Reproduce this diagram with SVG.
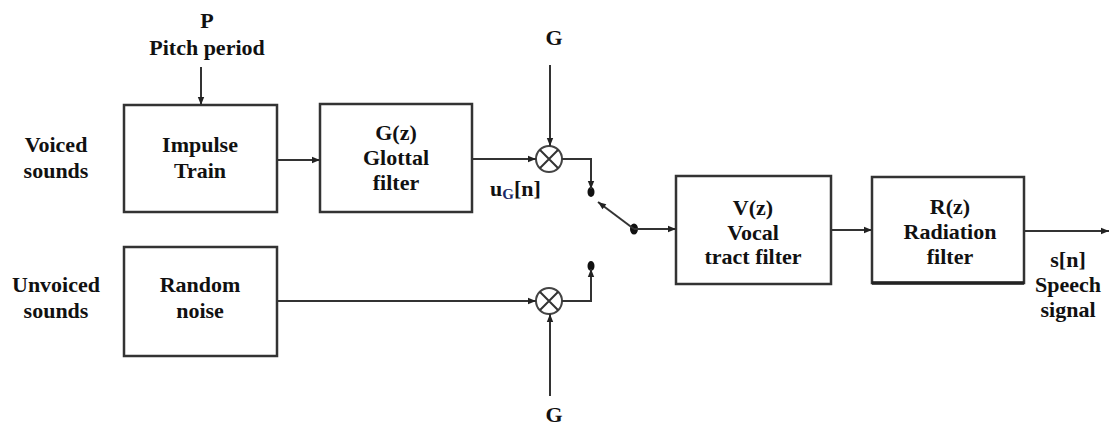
<svg xmlns="http://www.w3.org/2000/svg" width="1109" height="425" viewBox="0 0 1109 425">
<defs>
<marker id="arr" viewBox="0 0 10 10" refX="10" refY="5" markerWidth="9" markerHeight="8" markerUnits="userSpaceOnUse" orient="auto"><path d="M0,1 L10,5 L0,9 z" fill="#222"/></marker>
</defs>
<style>
.box{fill:#fff;stroke:#333;stroke-width:2.5}
.ln{fill:none;stroke:#333;stroke-width:2}
.t{font-family:'Liberation Serif','DejaVu Serif','Times New Roman',serif;font-weight:bold;font-size:22px;fill:#111;text-anchor:middle}
.mul{fill:#fff;stroke:#444;stroke-width:2}
.dot{fill:#111}
</style>
<rect width="1109" height="425" fill="#fff"/>

<g id="labels">
<text class="t" x="207" y="28">P</text>
<text class="t" x="207" y="55">Pitch period</text>
<text class="t" x="56" y="152">Voiced</text>
<text class="t" x="56" y="178">sounds</text>
<text class="t" x="56" y="292">Unvoiced</text>
<text class="t" x="56" y="318">sounds</text>
<text class="t" x="554" y="45">G</text>
<text class="t" x="554" y="422">G</text>
<text class="t" x="490" y="196" style="text-anchor:start">u<tspan font-size="15" dy="3" fill="#1a2a6a">G</tspan><tspan dy="-3">[n]</tspan></text>
<text class="t" x="1068" y="267">s[n]</text>
<text class="t" x="1068" y="292">Speech</text>
<text class="t" x="1068" y="317">signal</text>
</g>

<g id="impulse">
<rect class="box" x="124" y="105" width="153" height="107"/>
<text class="t" x="200" y="152">Impulse</text>
<text class="t" x="200" y="178">Train</text>
</g>

<g id="glottal">
<rect class="box" x="320" y="104" width="152" height="108"/>
<text class="t" x="396" y="140">G(z)</text>
<text class="t" x="396" y="165">Glottal</text>
<text class="t" x="396" y="190">filter</text>
</g>

<g id="noise">
<rect class="box" x="124" y="247" width="153" height="109"/>
<text class="t" x="200" y="292">Random</text>
<text class="t" x="200" y="318">noise</text>
</g>

<g id="vocal">
<rect class="box" x="676" y="176" width="155" height="108"/>
<text class="t" x="753" y="215">V(z)</text>
<text class="t" x="753" y="240">Vocal</text>
<text class="t" x="753" y="264">tract filter</text>
</g>

<g id="radiation">
<rect class="box" x="872" y="177" width="152" height="106"/>
<line x1="872" y1="283" x2="1024" y2="283" stroke="#222" stroke-width="3.5"/>
<text class="t" x="950" y="214">R(z)</text>
<text class="t" x="950" y="239">Radiation</text>
<text class="t" x="950" y="264">filter</text>
</g>

<g id="mult1">
<circle class="mul" cx="549" cy="159" r="13"/>
<path class="ln" d="M539.8,149.8 L558.2,168.2 M558.2,149.8 L539.8,168.2" stroke="#444"/>
</g>

<g id="mult2">
<circle class="mul" cx="549" cy="301" r="13"/>
<path class="ln" d="M539.8,291.8 L558.2,310.2 M558.2,291.8 L539.8,310.2" stroke="#444"/>
</g>

<g id="switch">
<ellipse class="dot" cx="591" cy="192" rx="3.5" ry="5"/>
<ellipse class="dot" cx="591" cy="266" rx="3.5" ry="5"/>
<ellipse class="dot" cx="634" cy="229" rx="4" ry="5.5"/>
</g>

<g id="connectors">
<path class="ln" d="M201,67 L201,105" marker-end="url(#arr)"/>
<path class="ln" d="M277,160 L320,160" marker-end="url(#arr)"/>
<path class="ln" d="M472,159 L536,159" marker-end="url(#arr)"/>
<path class="ln" d="M550,65 L550,146" marker-end="url(#arr)"/>
<path class="ln" d="M277,301 L536,301" marker-end="url(#arr)"/>
<path class="ln" d="M550,396 L550,314" marker-end="url(#arr)"/>
<path class="ln" d="M562,159 L591,159 L591,189" marker-end="url(#arr)"/>
<path class="ln" d="M562,301 L591,301 L591,269" marker-end="url(#arr)"/>
<path class="ln" d="M634,229 L598,202" marker-end="url(#arr)"/>
<path class="ln" d="M634,229 L676,229" marker-end="url(#arr)"/>
<path class="ln" d="M831,230 L872,230" marker-end="url(#arr)"/>
<path class="ln" d="M1024,231 L1109,231" marker-end="url(#arr)"/>
</g>
</svg>
